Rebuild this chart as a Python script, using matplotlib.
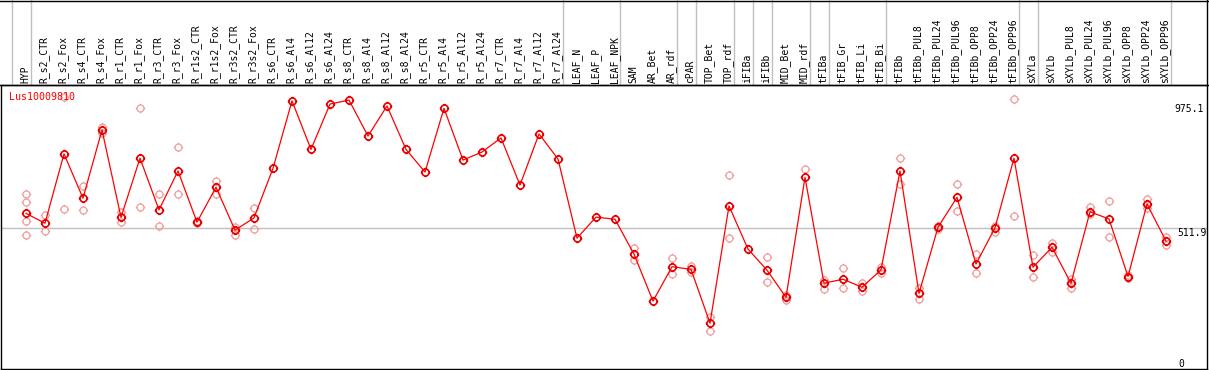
import matplotlib
matplotlib.use("Agg")
import matplotlib.pyplot as plt
import matplotlib.transforms as mtransforms
from matplotlib.path import Path
from matplotlib.lines import Line2D
import numpy as np

categories = ["HYP", "R_s2_CTR", "R_s2_Fox", "R_s4_CTR", "R_s4_Fox", "R_r1_CTR", "R_r1_Fox",
              "R_r3_CTR", "R_r3_Fox", "R_r1s2_CTR", "R_r1s2_Fox", "R_r3s2_CTR", "R_r3s2_Fox",
              "R_s6_CTR", "R_s6_Al4", "R_s6_Al12", "R_s6_Al24", "R_s8_CTR", "R_s8_Al4",
              "R_s8_Al12", "R_s8_Al24", "R_r5_CTR", "R_r5_Al4", "R_r5_Al12", "R_r5_Al24",
              "R_r7_CTR", "R_r7_Al4", "R_r7_Al12", "R_r7_Al24", "LEAF_N", "LEAF_P", "LEAF_NPK",
              "SAM", "AR_Bet", "AR_rdf", "cPAR", "TOP_Bet", "TOP_rdf", "iFIBa", "iFIBb",
              "MID_Bet", "MID_rdf", "tFIBa", "tFIB_Gr", "tFIB_Li", "tFIB_Bi", "tFIBb",
              "tFIBb_PUL8", "tFIBb_PUL24", "tFIBb_PUL96", "tFIBb_OPP8", "tFIBb_OPP24",
              "tFIBb_OPP96", "sXYLa", "sXYLb", "sXYLb_PUL8", "sXYLb_PUL24", "sXYLb_PUL96",
              "sXYLb_OPP8", "sXYLb_OPP24", "sXYLb_OPP96"]

means = [565, 528, 788, 622, 878, 550, 772, 578, 724, 532, 663, 502, 548,
         734, 987, 805, 975, 990, 855, 968, 805, 720, 959, 765, 795, 848, 671, 863, 769,
         472, 551, 543, 412, 236, 365, 355, 153, 593, 431, 352, 250, 700,
         303, 318, 288, 353, 724, 265, 513, 625, 375, 511, 772,
         363, 438, 303, 571, 544, 328, 600, 461]

replicates = [[638, 606, 536, 484], [558, 498], [581, 1003], [666, 578], [890, 868],
              [569, 534], [588, 959], [636, 516], [636, 813], [529, 535], [688, 636],
              [515, 484], [585, 507],
              [], [], [], [], [], [], [], [], [], [], [], [], [], [], [], [],
              [], [], [], [434, 390], [], [396, 336], [368, 346], [177, 125], [709, 471],
              [], [400, 306], [259, 240], [731],
              [315, 280], [359, 284], [303, 274], [363, 340], [771, 674], [284, 244],
              [518, 508], [674, 574], [411, 340], [518, 496], [993, 555],
              [409, 328], [453, 421], [319, 284], [588, 563], [611, 476], [332, 322],
              [618, 584], [478, 446]]

group_ends = [-1, 0, 28, 31, 34, 35, 37, 38, 39, 41, 42, 45, 52, 53, 60]
ytick_values = [0, 511.9, 975.1]
ytick_labels = ["0", "511.9", "975.1"]
gene_name = "Lus10009810"

W, H = 1209, 370
fig = plt.figure(figsize=(W / 100, H / 100), dpi=100)
ax = fig.add_axes([1 / W, 1 - 369 / H, 1206 / W, 284 / H])

# marker: polygonal circle with four outward ticks
ang = np.linspace(0, 2 * np.pi, 33)
verts = [(np.cos(a), np.sin(a)) for a in ang]
codes = [Path.MOVETO] + [Path.LINETO] * (len(ang) - 1)
for (a, b) in [((1.0, 0), (1.35, 0)), ((-1.0, 0), (-1.35, 0)), ((0, 1.0), (0, 1.35)), ((0, -1.0), (0, -1.35))]:
    verts += [a, b]
    codes += [Path.MOVETO, Path.LINETO]
marker = Path(verts, codes)

x = np.arange(len(categories))
rx, ry = [], []
for i, reps in enumerate(replicates):
    for r in reps:
        rx.append(i)
        ry.append(r)
ax.plot(rx, ry, linestyle="none", marker=marker, markersize=6.8, markerfacecolor="none",
        markeredgecolor="#f09a9a", markeredgewidth=0.9, zorder=2)
ax.plot(x, means, color="#ff0000", linewidth=0.9, zorder=3)
ax.plot(x, means, linestyle="none", marker=marker, markersize=6.8, markerfacecolor="none",
        markeredgecolor="#e80000", markeredgewidth=1.2, zorder=4)

ax.axhline(ytick_values[1], color="#c0c0c0", linewidth=1.0, zorder=1)

ax.set_xlim((1 - 26) / 19, (1207 - 26) / 19)
ax.set_ylim(-18.75, 1046.5)
ax.set_xticks([])
ax.set_yticks([])
for s in ax.spines.values():
    s.set_color("black")
    s.set_linewidth(1.0)

blend = mtransforms.blended_transform_factory(ax.transData, fig.transFigure)
off = (31 - 26) / 19
for g in group_ends:
    fig.add_artist(Line2D([g + off, g + off], [0, 1], transform=blend, color="#c0c0c0",
                          linewidth=1.0, zorder=0))

for i, c in enumerate(categories):
    fig.text(i - 0.05, 1 - 83 / H, c, transform=blend, rotation=90, ha="center", va="bottom",
             fontsize=7, family="DejaVu Sans Mono", color="black")

# top line and right border extension
fig.add_artist(Line2D([0, 1], [1 - 0.6 / H, 1 - 0.6 / H], transform=fig.transFigure,
                      color="black", linewidth=1.0))
fig.add_artist(Line2D([0, 1], [1 - 85 / H, 1 - 85 / H], transform=fig.transFigure,
                      color="black", linewidth=1.0))
fig.add_artist(Line2D([1206.5 / W, 1206.5 / W], [1 - 85 / H, 1], transform=fig.transFigure,
                      color="black", linewidth=1.0))

# right axis labels (top aligned at value)
label_x = {"0": 1178, "511.9": 1177, "975.1": 1174}
yblend = mtransforms.blended_transform_factory(fig.transFigure, ax.transData)
for v, l in zip(ytick_values, ytick_labels):
    yy = v if v > 0 else 18
    fig.text(label_x[l] / W, yy, l, transform=yblend, ha="left", va="top", fontsize=7,
             family="DejaVu Sans Mono", color="black")

fig.text(9 / W, 1 - 92 / H, gene_name, ha="left", va="top", fontsize=7.2,
         family="DejaVu Sans Mono", color="#ff0000")

fig.savefig("out.png", dpi=100)
